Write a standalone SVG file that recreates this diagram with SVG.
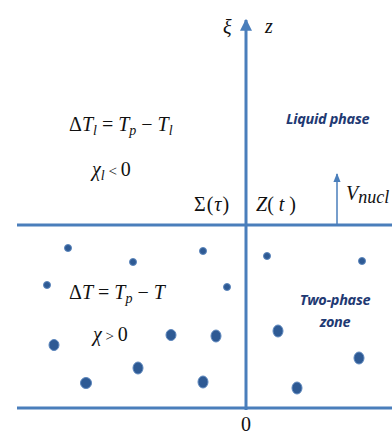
<svg xmlns="http://www.w3.org/2000/svg" width="392" height="435" viewBox="0 0 392 435">
<style>
.ln{stroke:#4a7ebb;stroke-width:3;fill:none}
.m{font-family:"Liberation Serif",serif;font-size:20px;fill:#111}
.i{font-style:italic}
.lab{font-family:"Open Sans","Liberation Sans",sans-serif;font-weight:bold;font-style:italic;font-size:14.5px;fill:#1f3a73;letter-spacing:-0.3px}
.d{fill:#2e5a94;stroke:#5d87bd;stroke-width:1}
</style>
<defs>
<marker id="ah" viewBox="0 0 10 10" refX="9" refY="5" markerWidth="4" markerHeight="4" orient="auto"><path d="M0,0L10,5L0,10z" fill="#4a7ebb"/></marker>
<marker id="ah2" viewBox="0 0 10 10" refX="9" refY="5" markerWidth="6" markerHeight="6" orient="auto"><path d="M0,1L10,5L0,9z" fill="#4a7ebb"/></marker>
</defs>
<g id="connectors">
<line class="ln" x1="17" y1="225" x2="392" y2="225"/>
<line class="ln" x1="17" y1="408" x2="392" y2="408"/>
<line class="ln" x1="246" y1="410" x2="246" y2="20" marker-end="url(#ah)"/>
<line x1="337" y1="224" x2="337" y2="174" stroke="#4a7ebb" stroke-width="1.5" marker-end="url(#ah2)"/>
</g>
<g id="axis-labels">
<text class="m i" x="223" y="34">ξ</text>
<text class="m i" x="265" y="33">z</text>
<text class="m" x="246" y="431" text-anchor="middle" font-size="18">0</text>
</g>
<g id="liquid">
<text class="m" x="69" y="131">Δ<tspan class="i">T</tspan><tspan class="i" font-size="14" dy="4">l</tspan><tspan dy="-4"> = </tspan><tspan class="i">T</tspan><tspan class="i" font-size="14" dy="4">p</tspan><tspan dy="-4"> − </tspan><tspan class="i">T</tspan><tspan class="i" font-size="14" dy="4">l</tspan></text>
<text class="m" x="92" y="176"><tspan class="i">χ</tspan><tspan class="i" font-size="14" dy="4">l</tspan><tspan dy="-4" font-size="15"> &lt; </tspan>0</text>
<text class="lab" x="286" y="124">Liquid phase</text>
</g>
<g id="interface">
<text class="m" x="194" y="211" letter-spacing="1">Σ(<tspan class="i">τ</tspan>)</text>
<text class="m" x="256" y="211"><tspan class="i">Z</tspan>( <tspan class="i">t</tspan> )</text>
<text class="m i" x="346" y="200" font-size="23">V<tspan font-size="18" dy="3">nucl</tspan></text>
</g>
<g id="twophase">
<text class="m" x="69" y="299">Δ<tspan class="i">T</tspan> = <tspan class="i">T</tspan><tspan class="i" font-size="14" dy="4">p</tspan><tspan dy="-4"> − </tspan><tspan class="i">T</tspan></text>
<text class="m" x="93" y="341"><tspan class="i">χ</tspan><tspan font-size="15"> &gt; </tspan>0</text>
<text class="lab" x="335" y="305" text-anchor="middle">Two-phase</text>
<text class="lab" x="335" y="327" text-anchor="middle">zone</text>
</g>
<g id="dots">
<circle class="d" cx="68" cy="248" r="3.5"/>
<circle class="d" cx="133" cy="262" r="3.5"/>
<circle class="d" cx="203" cy="251" r="3.5"/>
<circle class="d" cx="47" cy="285" r="3.5"/>
<circle class="d" cx="227" cy="287" r="3.5"/>
<circle class="d" cx="267" cy="256" r="3.5"/>
<circle class="d" cx="362" cy="261" r="3.5"/>
<ellipse class="d" cx="54" cy="345" rx="5" ry="5.5"/>
<ellipse class="d" cx="171" cy="335" rx="5" ry="5.5"/>
<ellipse class="d" cx="216" cy="336" rx="5" ry="6"/>
<ellipse class="d" cx="138" cy="368" rx="5" ry="6"/>
<ellipse class="d" cx="86" cy="383" rx="5.5" ry="5.5"/>
<ellipse class="d" cx="203" cy="382" rx="5" ry="6"/>
<ellipse class="d" cx="278" cy="331" rx="5" ry="6"/>
<ellipse class="d" cx="359" cy="358" rx="5" ry="6"/>
<ellipse class="d" cx="297" cy="388" rx="5" ry="6"/>
</g>
</svg>
